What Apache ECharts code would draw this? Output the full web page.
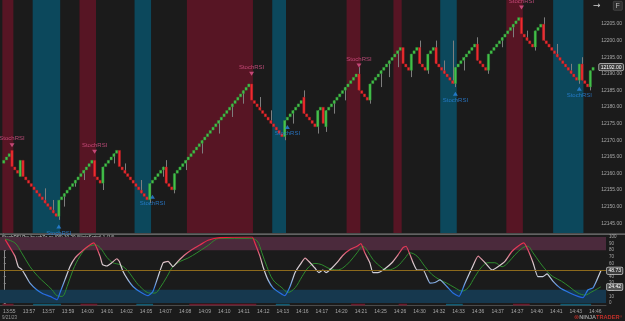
<!DOCTYPE html>
<html><head><meta charset="utf-8">
<script src="https://cdn.jsdelivr.net/npm/echarts@6/dist/echarts.min.js"></script>
<style>html,body{margin:0;padding:0;background:#1b1b1b;}#c{width:625px;height:321px;}</style>
</head><body><div id="c"></div>
<script>
// ---- price bars (renko-style bricks), one per bar index ----
const opens = [12163,12164,12165,12167,12162,12161,12159,12164,12159,12158,12157,12156,12155,12154,12153,12152,12151,12150,12149,12148,
12147,12152,12153,12154,12155,12156,12157,12158,12159,12160,12161,12162,12163,12164,12159,12158,12157,12162,12163,12164,
12165,12166,12167,12162,12161,12160,12159,12158,12157,12156,12155,12154,12153,12152,12157,12158,12159,12160,12161,12162,
12157,12156,12155,12160,12161,12162,12163,12164,12165,12166,12167,12168,12169,12170,12171,12172,12173,12174,12175,12176,
12177,12178,12179,12180,12181,12182,12183,12184,12185,12186,12187,12182,12181,12180,12179,12178,12177,12176,12175,12174,
12173,12172,12171,12176,12177,12178,12179,12180,12181,12183,12178,12177,12176,12175,12174,12179,12180,12174,12179,12180,
12181,12182,12183,12184,12185,12186,12187,12188,12189,12190,12185,12184,12183,12182,12187,12188,12189,12190,12191,12192,
12193,12194,12195,12196,12197,12198,12193,12192,12191,12196,12197,12198,12193,12192,12191,12196,12197,12198,12193,12192,
12191,12190,12189,12188,12187,12192,12193,12194,12195,12196,12197,12198,12199,12194,12193,12192,12191,12196,12197,12198,
12199,12200,12201,12202,12203,12204,12205,12206,12207,12202,12201,12200,12199,12198,12203,12204,12205,12200,12199,12198,
12197,12196,12195,12194,12193,12192,12191,12190,12189,12188,12193,12188,12187,12186,12191];
const closes = [12164,12165,12166,12162,12161,12160,12164,12159,12158,12157,12156,12155,12154,12153,12152,12151,12150,12149,12148,12147,
12152,12153,12154,12155,12156,12157,12158,12159,12160,12161,12162,12163,12164,12159,12158,12157,12162,12163,12164,12165,
12166,12167,12162,12161,12160,12159,12158,12157,12156,12155,12154,12153,12152,12157,12158,12159,12160,12161,12162,12157,
12156,12155,12160,12161,12162,12163,12164,12165,12166,12167,12168,12169,12170,12171,12172,12173,12174,12175,12176,12177,
12178,12179,12180,12181,12182,12183,12184,12185,12186,12187,12182,12181,12180,12179,12178,12177,12176,12175,12174,12173,
12172,12171,12176,12177,12178,12179,12180,12181,12182,12178,12177,12176,12175,12174,12179,12180,12175,12179,12180,12181,
12182,12183,12184,12185,12186,12187,12188,12189,12190,12185,12184,12183,12182,12187,12188,12189,12190,12191,12192,12193,
12194,12195,12196,12197,12198,12193,12192,12191,12196,12197,12198,12193,12192,12191,12196,12197,12198,12193,12192,12191,
12190,12189,12188,12187,12192,12193,12194,12195,12196,12197,12198,12199,12194,12193,12192,12191,12196,12197,12198,12199,
12200,12201,12202,12203,12204,12205,12206,12207,12202,12201,12200,12199,12198,12203,12204,12205,12200,12199,12198,12197,
12196,12195,12194,12193,12192,12191,12190,12189,12188,12193,12188,12187,12186,12191,12192];
// wicks: bar index and the price the wick reaches
const wickBars = [15,18,20,22,26,29,36,40,44,50,53,58,59,62,66,72,78,83,87,93,97,102,105,109,114,117,120,124,129,133,137,140,143,148,151,154,157,160,163,164,167,172,176,181,185,190,193,196,201,206,209,210,213];
const wickEnds = [12155.5,12152,12146,12150,12156,12158,12155,12163,12163,12158,12151,12159,12164,12154,12161,12166,12172,12177,12181,12183,12179,12170,12175,12185,12172,12172.5,12178,12182,12192,12181,12186,12189,12192,12189,12200,12190,12200,12194,12200,12186,12191,12201,12190,12198,12201,12203,12197,12207,12199,12193,12187,12195,12185];
// StochRSI signal markers
const sellIdx = [3,33,90,129,188];
const sellLvl = [12168.5,12166.5,12190,12192.5,12210];
const buyIdx = [20,54,103,164,209];
const buyLvl = [12144,12153,12174,12184,12185.5];
// background zones (bar index ranges)
const redBands = [[0,3],[28,33],[67,90],[125,129],[142,144],[183,188]];
const blueBands = [[11,20],[48,53],[98,102],[159,164],[200,210]];
// oscillator lines
const rsiX = [0.5,4,5.2,6.4,7.6,9.4,11.8,14,16.6,19.1,20.1,21.9,23.7,25.5,27.9,30.2,32.3,34.5,35.4,36.9,38.7,40.5,41.4,42.7,44.5,46.3,48.8,51.7,53.4,55.3,57.1,58.9,60.6,62.4,64.9,67.5,70.3,73.2,77.5,89,90,91.8,92.9,94.7,96.5,99,100.7,102.6,104.4,106.2,108,109.8,111.5,113,114.4,115.5,117.6,119.4,121.5,124.1,126.6,128,129.4,131.2,132.3,134.1,136.6,139.1,141.3,143.1,144.2,145.6,146.7,148.1,150.3,152.8,154.5,156.3,158.8,161,163.2,165.3,167.8,170,172.5,175,177.1,179.6,182.1,184.3,186.4,187.8,189.7,191.4,193.2,194.7,196.8,199.3,202.9,205.8,207.6,209.4,211.2,212.6,214];
const rsiV = [96,71,55,51,43,30,20,14,10,5,15,35,55,68,78,86,91,71,58,56,61,67,63,48,35,25,17,11,17,40,61,63,55,63,73,81,88,95,99,100,91,71,55,35,23,15,11,25,46,58,68,61,53,46,50,46,53,61,72,81,86,90,76,61,46,46,52,61,73,84,86,73,61,50,50,30,31,35,25,15,10,30,53,71,61,50,55,63,78,86,91,81,61,40,40,44,33,23,15,10,8,20,23,35,48.73];
const sigX = [0.4,4,6.4,9.4,12.3,14.8,17.3,19.1,20.9,22.7,24.8,27.3,29.8,32.7,34.5,37,39.1,41.6,44.2,46.3,48.8,52.4,54.2,56,58.5,60.6,63.2,66,69.2,72.8,77.5,88.2,90.8,92.5,94.3,96.5,99.7,101.9,104.4,106.9,109,111.5,114,116.2,119.4,121.5,124.1,126.6,128.7,130.5,132.3,135.6,137.7,140.9,143.8,145.6,148.1,151,153.5,156.3,158.8,161.7,164.2,166.4,168.9,171.4,173.5,176,178.6,180.7,183.2,186.1,187.8,189.7,192.2,194.7,196.8,199.9,202.9,205.8,208.3,210.8,214];
const sigV = [97,91,76,55,40,30,20,11,10,25,50,71,84,88,84,69,61,58,50,38,25,15,15,23,40,55,63,68,76,86,98,98,94,76,55,35,23,16,23,40,53,60,58,53,50,53,63,76,86,78,66,53,50,55,68,76,71,55,43,35,30,23,18,23,40,55,61,61,55,61,73,84,86,76,61,48,40,33,24,15,12,17,24.42];
// axis ticks / labels
const priceTicks = [12145,12150,12155,12160,12165,12170,12175,12180,12185,12190,12195,12200,12205];
const oscTicks = [0,10,20,30,40,50,60,70,80,90,100];
const oscLevels = [20,50,80];
const timeLabels = ['13:55','13:57','13:57','13:59','14:00','14:01','14:02','14:05','14:07','14:08','14:09','14:10','14:11','14:12','14:13','14:16','14:17','14:20','14:21','14:25','14:26','14:30','14:32','14:33','14:36','14:37','14:37','14:40','14:41','14:43','14:46'];
const timeTickBars = [2,9,16,23,30,37,44,51,58,65,72,79,86,93,100,107,114,121,128,135,142,149,156,163,170,177,184,191,198,205,212];

const FONT = '"Liberation Sans", Arial, sans-serif';
const wickMap = {};
wickBars.forEach((b,k)=>{ wickMap[b] = wickEnds[k]; });
const bars = opens.map((o,i)=>{
  const c = closes[i];
  let lo = Math.min(o,c), hi = Math.max(o,c);
  const w = wickMap[i];
  if (w !== undefined) { if (w < lo) lo = w; if (w > hi) hi = w; }
  return [i,o,c,lo,hi];
});
const X_MIN = -1.36, X_MAX = 215.84;
const P_MIN = 12142.05, P_MAX = 12212.23;

function renderBar(params, api) {
  const i = api.value(0), o = api.value(1), c = api.value(2), lo = api.value(3), hi = api.value(4);
  const po = api.coord([i,o]), pc = api.coord([i,c]);
  const pl = api.coord([i,lo]), ph = api.coord([i,hi]);
  const up = c > o;
  const w = 2.3;
  const y0 = Math.min(po[1],pc[1]);
  const h = Math.max(Math.abs(po[1]-pc[1]) - 0.4, 1);
  const kids = [];
  if (hi > Math.max(o,c) || lo < Math.min(o,c)) {
    const xx = Math.round(po[0]) + 0.5;
    kids.push({type:'line', shape:{x1:xx, y1:ph[1], x2:xx, y2:pl[1]}, style:{stroke:'#7e7e7e', lineWidth:1}});
  }
  kids.push({type:'rect', shape:{x:po[0]-w/2, y:y0+0.2, width:w, height:h},
    style:{fill: up ? '#43c24a' : '#ee2b2f', stroke: up ? '#2f8f35' : '#a51c20', lineWidth:0.4}});
  return {type:'group', children:kids};
}

const bandAreas = [];
redBands.forEach(b=>bandAreas.push([{xAxis:b[0]-0.5, itemStyle:{color:'#571524'}},{xAxis:b[1]+0.5}]));
blueBands.forEach(b=>bandAreas.push([{xAxis:b[0]-0.5, itemStyle:{color:'#0c485c'}},{xAxis:b[1]+0.5}]));
const stripAreas = [];
redBands.forEach(b=>stripAreas.push([{xAxis:b[0]-0.5, yAxis:-3.8, itemStyle:{color:'#6a1a2c'}},{xAxis:b[1]+0.5, yAxis:-1.2}]));
blueBands.forEach(b=>stripAreas.push([{xAxis:b[0]-0.5, yAxis:-3.8, itemStyle:{color:'#0f5a72'}},{xAxis:b[1]+0.5, yAxis:-1.2}]));

const valueBox = {show:true, position:'end', distance:1, fontSize:5, color:'#ffffff', fontFamily:FONT,
  backgroundColor:'#3c3c3c', borderColor:'#cfcfcf', borderWidth:0.7, borderRadius:1, padding:[1,1.5,0.5,1.5]};

const chart = echarts.init(document.getElementById('c'), null, {renderer:'canvas'});
chart.setOption({
  backgroundColor:'#1b1b1b',
  animation:false,
  textStyle:{fontFamily:FONT},
  grid:[{left:0, top:0, width:606, height:233},{left:0, top:237, width:606, height:68.6}],
  xAxis:[
    {type:'value', gridIndex:0, min:X_MIN, max:X_MAX, show:false},
    {type:'value', gridIndex:1, min:X_MIN, max:X_MAX, position:'bottom',
     axisLine:{show:true, onZero:false, lineStyle:{color:'#4a4a4a'}}, axisTick:{show:false}, splitLine:{show:false},
     axisLabel:{customValues:timeTickBars, formatter:(v)=>timeLabels[timeTickBars.indexOf(v)], color:'#a8a8a8', fontSize:5, margin:4}}
  ],
  yAxis:[
    {type:'value', gridIndex:0, min:P_MIN, max:P_MAX, position:'right',
     axisLine:{show:true, lineStyle:{color:'#8c8c8c'}}, axisTick:{show:true, length:2, customValues:priceTicks, lineStyle:{color:'#8c8c8c'}},
     splitLine:{show:false}, axisLabel:{customValues:priceTicks, formatter:(v)=>v.toFixed(2), color:'#a8a8a8', fontSize:5, margin:3}},
    {type:'value', gridIndex:1, min:-4, max:100, position:'right',
     axisLine:{show:true, lineStyle:{color:'#8c8c8c'}}, axisTick:{show:true, length:2, customValues:oscTicks, lineStyle:{color:'#8c8c8c'}},
     splitLine:{show:false}, axisLabel:{customValues:oscTicks, color:'#a8a8a8', fontSize:4.5, margin:3}}
  ],
  visualMap:[{type:'continuous', show:false, seriesIndex:6, dimension:1, min:0, max:100,
    inRange:{color:['#1a4fe0','#2e7de6','#c8cfdc','#dccdd0','#e2405f','#f01c3c']}}],
  series:[
    {type:'line', xAxisIndex:0, yAxisIndex:0, z:1, silent:true, showSymbol:false,
     lineStyle:{opacity:0}, data:bars.map(b=>[b[0],b[2]]),
     markArea:{silent:true, data:bandAreas},
     markLine:{silent:true, symbol:['none','none'], lineStyle:{color:'rgba(0,0,0,0)', width:0},
       label:Object.assign({}, valueBox, {formatter:(p)=>p.value.toFixed(2)}),
       data:[{yAxis:closes[closes.length-1]}]}},
    {type:'custom', xAxisIndex:0, yAxisIndex:0, z:3, renderItem:renderBar, data:bars, clip:true},
    {type:'scatter', xAxisIndex:0, yAxisIndex:0, z:4, symbol:'triangle', symbolRotate:180, symbolSize:[5,4],
     itemStyle:{color:'#e0558c'}, data:sellIdx.map((b,k)=>[b,sellLvl[k]]),
     label:{show:true, position:'top', distance:1.5, formatter:'StochRSI', color:'#e0558c', fontSize:6}},
    {type:'scatter', xAxisIndex:0, yAxisIndex:0, z:4, symbol:'triangle', symbolSize:[5,4],
     itemStyle:{color:'#2a86e0'}, data:buyIdx.map((b,k)=>[b,buyLvl[k]]),
     label:{show:true, position:'bottom', distance:1.5, formatter:'StochRSI', color:'#2a86e0', fontSize:6}},
    {type:'line', xAxisIndex:1, yAxisIndex:1, z:1, silent:true, showSymbol:false,
     lineStyle:{opacity:0}, data:sigX.map((x,k)=>[x,sigV[k]]),
     markArea:{silent:true, data:[
       [{yAxis:oscLevels[2], itemStyle:{color:'#4b2a3c'}},{yAxis:100}],
       [{yAxis:0, itemStyle:{color:'#16384e'}},{yAxis:oscLevels[0]}]
     ].concat(stripAreas)},
     markLine:{silent:true, symbol:['none','none'], label:{show:false},
       lineStyle:{color:'#8d6a1c', width:1, type:'solid'}, data:[{yAxis:oscLevels[1]}]}},
    {type:'line', xAxisIndex:1, yAxisIndex:1, z:3, showSymbol:false, smooth:0.35,
     lineStyle:{color:'#2e8b2e', width:1}, data:sigX.map((x,k)=>[x,sigV[k]]),
     markLine:{silent:true, symbol:['none','none'], lineStyle:{color:'rgba(0,0,0,0)', width:0},
       label:Object.assign({}, valueBox, {backgroundColor:'#555555', formatter:(p)=>p.value.toFixed(2)}),
       data:[{yAxis:sigV[sigV.length-1]}]}},
    {type:'line', xAxisIndex:1, yAxisIndex:1, z:4, showSymbol:false, smooth:0.15,
     lineStyle:{width:1.2}, data:rsiX.map((x,k)=>[x,rsiV[k]]),
     markLine:{silent:true, symbol:['none','none'], lineStyle:{color:'rgba(0,0,0,0)', width:0},
       label:Object.assign({}, valueBox, {formatter:(p)=>p.value.toFixed(2)}),
       data:[{yAxis:rsiV[rsiV.length-1]}]}}
  ],
  graphic:[
    {type:'rect', left:0, top:233.4, shape:{width:625, height:1.3}, style:{fill:'#7c7c7c'}, silent:true},
    {type:'text', left:2, top:235.6, style:{text:'StochRSI Pro by wbZa.co (90) 10-20 (NinjaScript) 1 (14)', fill:'#c8c8c8', fontSize:4.5, fontFamily:FONT}},
    {type:'text', left:2, top:297.6, style:{text:'\u00a9 2023 NinjaTrader, LLC', fill:'#d0d0d0', fontSize:4.5, fontFamily:FONT}},
    {type:'text', left:2, top:315.5, style:{text:'9/21/23', fill:'#9a9a9a', fontSize:4.5, fontFamily:FONT}},
    {type:'text', left:593, top:1, style:{text:'\u2192', fill:'#cfcfcf', fontSize:9, fontFamily:'DejaVu Sans'}},
    {type:'rect', left:613, top:1, shape:{width:9, height:9, r:1}, style:{fill:'#2e2e2e', stroke:'#555', lineWidth:0.6}},
    {type:'text', left:615.5, top:2.2, style:{text:'F', fill:'#bdbdbd', fontSize:7, fontFamily:FONT}},
    {type:'text', right:3, top:314.2, style:{
      text:'{i|\u2297}{a|NINJA}{b|TRADER}{c|\u00ae}',
      rich:{i:{fill:'#c0302a', fontSize:6}, a:{fill:'#9a9a9a', fontSize:5.6, fontWeight:'bold'}, b:{fill:'#c0302a', fontSize:5.6, fontWeight:'bold'}, c:{fill:'#c0302a', fontSize:3.5}}}}
  ]
});
</script></body></html>
